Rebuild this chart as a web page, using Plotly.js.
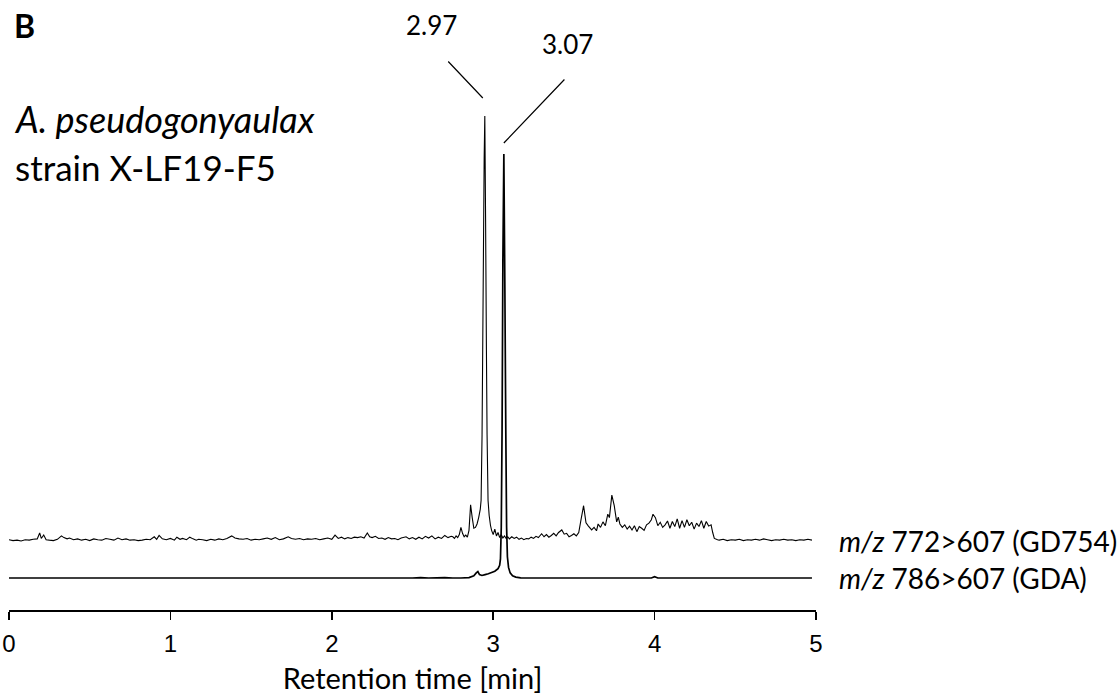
<!DOCTYPE html>
<html>
<head>
<meta charset="utf-8">
<script src="https://cdn.plot.ly/plotly-3.0.1.min.js"></script>
<style>html,body{margin:0;padding:0;background:#fff;}#chart{width:1120px;height:695px;}</style>
</head>
<body>
<div id="chart"></div>
<script>
// Retention time [min] and relative intensity (% of each trace's main peak)
const gd754Time = [
  0.000,0.025,0.050,0.075,0.100,0.125,0.150,0.175,0.190,0.200,
  0.215,0.230,0.250,0.275,0.300,0.325,0.340,0.360,0.375,0.400,
  0.425,0.450,0.475,0.500,0.525,0.550,0.575,0.600,0.625,0.650,
  0.675,0.700,0.725,0.750,0.775,0.800,0.825,0.850,0.875,0.900,
  0.915,0.930,0.950,0.975,1.000,1.025,1.040,1.060,1.075,1.100,
  1.120,1.140,1.160,1.175,1.200,1.225,1.250,1.275,1.300,1.325,
  1.350,1.380,1.400,1.425,1.450,1.475,1.500,1.525,1.550,1.575,
  1.600,1.625,1.650,1.675,1.700,1.730,1.750,1.775,1.800,1.825,
  1.850,1.875,1.900,1.925,1.950,1.975,2.000,2.020,2.040,2.060,
  2.080,2.100,2.120,2.140,2.160,2.180,2.200,2.220,2.235,2.250,
  2.270,2.290,2.310,2.330,2.350,2.370,2.390,2.410,2.430,2.460,
  2.480,2.500,2.520,2.540,2.560,2.580,2.600,2.620,2.640,2.660,
  2.680,2.700,2.720,2.740,2.750,2.760,2.770,2.780,2.790,2.800,
  2.810,2.820,2.830,2.840,2.850,2.860,2.870,2.880,2.890,2.900,
  2.910,2.920,2.925,2.931,2.938,2.944,2.948,2.953,2.958,2.962,
  2.968,2.975,2.983,2.990,3.000,3.010,3.020,3.030,3.040,3.050,
  3.060,3.070,3.080,3.090,3.100,3.115,3.130,3.145,3.160,3.175,
  3.190,3.205,3.220,3.235,3.250,3.265,3.280,3.300,3.315,3.330,
  3.345,3.360,3.375,3.390,3.405,3.425,3.440,3.455,3.470,3.485,
  3.500,3.515,3.530,3.545,3.560,3.575,3.590,3.610,3.625,3.640,
  3.650,3.665,3.680,3.695,3.710,3.720,3.735,3.750,3.765,3.775,
  3.785,3.800,3.815,3.830,3.845,3.860,3.875,3.890,3.905,3.920,
  3.935,3.950,3.965,3.980,3.990,4.005,4.020,4.035,4.050,4.065,
  4.080,4.095,4.110,4.125,4.140,4.155,4.170,4.185,4.200,4.215,
  4.230,4.245,4.260,4.275,4.290,4.305,4.320,4.335,4.350,4.360,
  4.370,4.390,4.400,4.425,4.450,4.475,4.500,4.525,4.550,4.575,
  4.600,4.625,4.650,4.675,4.700,4.725,4.750,4.775,4.800,4.825,
  4.850,4.875,4.900,4.925,4.950,4.975
];
const gd754Int = [
  0.3,0.1,0.2,0.0,0.3,0.2,0.4,0.5,1.9,0.6,
  1.4,0.3,0.2,0.1,0.4,1.2,0.8,0.5,0.7,0.3,
  0.5,0.2,0.4,0.1,0.5,0.3,0.2,0.6,0.4,0.2,
  0.7,0.3,0.5,0.2,0.3,0.1,0.2,0.4,0.3,1.0,
  0.4,1.3,0.5,0.3,0.6,0.2,0.9,0.4,0.6,0.3,
  0.9,0.5,0.2,0.4,0.3,0.1,0.4,0.2,0.5,0.3,
  0.6,1.2,0.7,0.5,0.4,0.6,0.2,0.4,0.3,0.5,
  0.7,0.4,0.8,0.3,0.5,1.0,0.6,0.4,0.6,0.3,
  0.5,0.4,0.6,0.3,0.5,0.7,0.4,1.4,0.6,0.9,
  0.5,0.8,0.6,0.9,0.8,1.0,0.7,1.9,1.0,0.8,
  1.1,0.6,0.7,0.4,0.8,0.5,0.6,0.3,0.7,1.0,
  0.5,0.8,0.4,0.9,0.5,1.1,0.7,1.2,0.5,0.9,
  0.6,1.3,0.8,1.1,1.0,0.6,1.2,0.8,1.5,3.2,
  1.8,1.0,1.4,0.9,2.5,8.5,5.5,3.0,3.2,4.0,
  5.5,7.5,9.6,25,60,90,100,75,45,25,
  9.6,6.0,3.7,2.5,1.5,2.8,1.2,2.0,0.8,1.5,
  0.7,1.2,0.6,1.0,0.5,1.0,0.6,0.9,0.4,0.7,
  0.3,0.6,0.5,0.9,0.6,1.1,0.8,1.7,1.0,1.5,
  0.9,1.3,1.8,1.2,2.0,2.6,1.6,1.8,1.0,1.3,
  1.7,1.2,2.0,5.2,8.3,4.3,3.5,2.6,3.2,2.4,
  4.0,3.2,4.5,3.6,6.3,5.5,10.8,8.3,4.5,5.6,
  4.0,3.2,3.8,2.8,3.5,2.6,3.6,2.2,3.4,3.0,
  2.5,3.8,4.2,5.0,6.3,5.5,3.6,4.4,3.2,3.8,
  4.7,3.0,4.6,3.4,5.2,3.0,4.8,3.2,5.0,3.6,
  4.4,2.8,4.2,3.4,4.8,3.0,4.6,3.5,3.8,2.0,
  0.6,0.3,0.2,0.4,0.1,0.3,0.2,0.4,0.1,0.3,
  0.2,0.4,0.2,0.5,0.3,0.1,0.3,0.2,0.4,0.2,
  0.3,0.1,0.3,0.2,0.4,0.2
];
const gdaTime = [
  0, 0.5, 1.0, 1.5, 2.0, 2.5, 2.55, 2.6, 2.7, 2.75,
  2.80, 2.85, 2.88, 2.895, 2.905, 2.915, 2.93, 2.95, 2.97, 2.99,
  3.01, 3.03, 3.04, 3.045, 3.05, 3.055, 3.06, 3.066, 3.072, 3.078,
  3.083, 3.088, 3.095, 3.105, 3.12, 3.14, 3.17, 3.20, 3.5, 3.98,
  4.0, 4.02, 4.5, 4.975
];
const gdaInt = [
  0, 0, 0, 0, 0, 0, 0.1, 0, 0.1, 0,
  0, 0.1, 0.5, 1.2, 1.5, 0.8, 0.6, 0.8, 1.0, 1.3,
  1.6, 2.2, 3.0, 4.5, 12, 35, 75, 100, 70, 35,
  12, 5, 2.5, 1.2, 0.5, 0.2, 0.05, 0, 0, 0,
  0.3, 0, 0, 0
];
const traceNames = ['<i>m/z</i> 772&gt;607 (GD754)', '<i>m/z</i> 786&gt;607 (GDA)'];
const peakLabels = ['2.97', '3.07'];
const xTicks = [0, 1, 2, 3, 4, 5];
const xTickText = ['0', '1', '2', '3', '4', '5'];

const W = 1120, H = 695;
const mL = 9, mR = 304, mT = 40, mB = 85;
const pw = W - mL - mR, ph = H - mT - mB;
const px = v => (v - mL) / pw;
const py = v => (H - mB - v) / ph;

function peakOf(t, v) {
  let k = 0;
  for (let i = 1; i < v.length; i++) if (v[i] > v[k]) k = i;
  return {x: t[k], y: v[k]};
}
const p1 = peakOf(gd754Time, gd754Int);
const p2 = peakOf(gdaTime, gdaInt);

const calibri = 'Lato, Carlito, Calibri, sans-serif';

const data = [
  {x: gdaTime, y: gdaInt, type: 'scatter', mode: 'lines', yaxis: 'y',
   line: {color: '#000', width: 1.7, simplify: false}, hoverinfo: 'skip', name: 'GDA'},
  {x: gd754Time, y: gd754Int, type: 'scatter', mode: 'lines', yaxis: 'y2',
   line: {color: '#000', width: 1.1, simplify: false}, hoverinfo: 'skip', name: 'GD754'}
];

const layout = {
  width: W, height: H,
  margin: {l: mL, r: mR, t: mT, b: mB, pad: 0},
  paper_bgcolor: '#fff', plot_bgcolor: '#fff',
  showlegend: false,
  xaxis: {
    range: [0, 5], showgrid: false, zeroline: false,
    showline: true, linecolor: '#000', linewidth: 1.5,
    ticks: 'outside', ticklen: 8, tickwidth: 1.5, tickcolor: '#000',
    tickvals: xTicks, ticktext: xTickText,
    ticklabelstandoff: 4,
    tickfont: {family: 'Arial, Liberation Sans, sans-serif', size: 24, color: '#000'},
    title: {text: 'Retention time [min]', standoff: 18,
            font: {family: calibri, size: 29, color: '#000'}}
  },
  yaxis: {range: [-7.547, 126.89], visible: false, fixedrange: true},
  yaxis2: {range: [-16.235, 117.88], visible: false, overlaying: 'y', fixedrange: true},
  annotations: [
    {xref: 'paper', yref: 'paper', x: px(12), y: py(26), xanchor: 'left', yanchor: 'middle',
     text: '<b>B</b>', showarrow: false, font: {family: calibri, size: 32, color: '#000'}},
    {xref: 'paper', yref: 'paper', x: px(12), y: py(119), xanchor: 'left', yanchor: 'middle',
     text: '<i>A. pseudogonyaulax</i>', showarrow: false, font: {family: calibri, size: 36, color: '#000'}},
    {xref: 'paper', yref: 'paper', x: px(13), y: py(167), xanchor: 'left', yanchor: 'middle',
     text: 'strain X-LF19-F5', showarrow: false, font: {family: calibri, size: 35, color: '#000'}},
    {xref: 'paper', yref: 'paper', x: px(431), y: py(25), xanchor: 'center', yanchor: 'middle',
     text: peakLabels[0], showarrow: false, font: {family: calibri, size: 26, color: '#000'}},
    {xref: 'paper', yref: 'paper', x: px(567), y: py(44), xanchor: 'center', yanchor: 'middle',
     text: peakLabels[1], showarrow: false, font: {family: calibri, size: 26, color: '#000'}},
    // leader lines
    {xref: 'x', yref: 'y2', x: p1.x, y: p1.y, xshift: -2, yshift: 18, ax: -36, ay: -38,
     text: '', showarrow: true, arrowhead: 0, arrowwidth: 1.2, arrowcolor: '#000', font: {size: 1}},
    {xref: 'x', yref: 'y', x: p2.x, y: p2.y, xshift: 0, yshift: 11, ax: 62, ay: -65,
     text: '', showarrow: true, arrowhead: 0, arrowwidth: 1.2, arrowcolor: '#000', font: {size: 1}},
    // trace labels
    {xref: 'paper', yref: 'y2', x: px(837), y: 0, xanchor: 'left', yanchor: 'middle',
     text: traceNames[0], showarrow: false, font: {family: calibri, size: 28, color: '#000'}},
    {xref: 'paper', yref: 'y', x: px(837), y: 0, xanchor: 'left', yanchor: 'middle',
     text: traceNames[1], showarrow: false, font: {family: calibri, size: 28, color: '#000'}}
  ]
};

Plotly.newPlot('chart', data, layout, {staticPlot: true, displayModeBar: false});
</script>
</body>
</html>
